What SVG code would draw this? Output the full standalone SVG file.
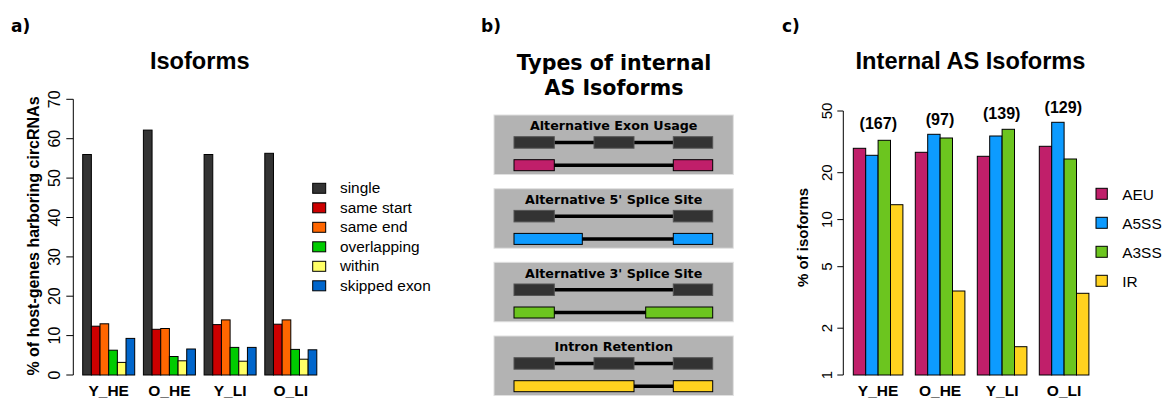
<svg xmlns="http://www.w3.org/2000/svg" width="1168" height="399" viewBox="0 0 1168 399">
<style>
.pl{font-family:"DejaVu Sans",sans-serif;font-weight:bold;font-size:17px;fill:#000}
.ti{font-family:"Liberation Sans",Arial,sans-serif;font-weight:bold;font-size:23.6px;text-anchor:middle;fill:#000}
.tk{font-family:"Liberation Sans",Arial,sans-serif;font-size:16px;text-anchor:middle;fill:#000}
.tkc{font-family:"Liberation Sans",Arial,sans-serif;font-size:15px;text-anchor:middle;fill:#000}
.yl{font-family:"Liberation Sans",Arial,sans-serif;font-weight:bold;font-size:16px;text-anchor:middle;fill:#000}
.gl{font-family:"Liberation Sans",Arial,sans-serif;font-weight:bold;font-size:15.5px;text-anchor:middle;fill:#000}
.lg{font-family:"Liberation Sans",Arial,sans-serif;font-size:15.4px;fill:#000}
.ct{font-family:"Liberation Sans",Arial,sans-serif;font-weight:bold;font-size:16px;text-anchor:middle;fill:#000}
.bt{font-family:"DejaVu Sans",sans-serif;font-weight:bold;font-size:20.6px;text-anchor:middle;fill:#000}
.st{font-family:"DejaVu Sans",sans-serif;font-weight:bold;font-size:12.7px;text-anchor:middle;fill:#000}
.bar rect{stroke:#000;stroke-width:1}
.ax{stroke:#000;stroke-width:1;fill:none}
.box{fill:#b3b3b3;stroke:#e0e0e0;stroke-width:1}
.ex{fill:#333;stroke:#555;stroke-width:1}
.ln{stroke:#000;stroke-width:3.5}
.c1{fill:#333333}.c2{fill:#cc0000}.c3{fill:#ff6600}.c4{fill:#00cc00}.c5{fill:#ffff66}.c6{fill:#0066cc}
.p1{fill:#c01f6a}.p2{fill:#0d9bff}.p3{fill:#6cc51f}.p4{fill:#ffd21f}
</style>
<rect width="1168" height="399" fill="#fff"/>

<g id="panel-a">
<text class="pl" x="11" y="32">a)</text>
<text class="ti" x="199.7" y="69">Isoforms</text>
<g id="axis-a">
<path class="ax" d="M73.3,99.3V375M66.3,375H73.3M66.3,335.6H73.3M66.3,296.2H73.3M66.3,256.9H73.3M66.3,217.5H73.3M66.3,178.1H73.3M66.3,138.7H73.3M66.3,99.3H73.3"/>
<g class="tk">
<text transform="translate(60,375) rotate(-90)">0</text>
<text transform="translate(60,335.6) rotate(-90)">10</text>
<text transform="translate(60,296.2) rotate(-90)">20</text>
<text transform="translate(60,256.9) rotate(-90)">30</text>
<text transform="translate(60,217.5) rotate(-90)">40</text>
<text transform="translate(60,178.1) rotate(-90)">50</text>
<text transform="translate(60,138.7) rotate(-90)">60</text>
<text transform="translate(60,99.3) rotate(-90)">70</text>
</g>
<text class="yl" transform="translate(39,236) rotate(-90)">% of host-genes harboring circRNAs</text>
</g>
<g id="bars-a" class="bar">
<rect class="c1" x="82.7" y="154.5" width="8.67" height="220.5"/>
<rect class="c2" x="91.37" y="326.2" width="8.67" height="48.8"/>
<rect class="c3" x="100.03" y="323.8" width="8.67" height="51.2"/>
<rect class="c4" x="108.7" y="350.2" width="8.67" height="24.8"/>
<rect class="c5" x="117.37" y="362.4" width="8.67" height="12.6"/>
<rect class="c6" x="126.03" y="338.4" width="8.67" height="36.6"/>

<rect class="c1" x="143.4" y="130.1" width="8.67" height="244.9"/>
<rect class="c2" x="152.07" y="329.3" width="8.67" height="45.7"/>
<rect class="c3" x="160.73" y="328.5" width="8.67" height="46.5"/>
<rect class="c4" x="169.4" y="356.5" width="8.67" height="18.5"/>
<rect class="c5" x="178.07" y="360.8" width="8.67" height="14.2"/>
<rect class="c6" x="186.73" y="349" width="8.67" height="26"/>

<rect class="c1" x="204.1" y="154.5" width="8.67" height="220.5"/>
<rect class="c2" x="212.77" y="324.6" width="8.67" height="50.4"/>
<rect class="c3" x="221.43" y="319.9" width="8.67" height="55.1"/>
<rect class="c4" x="230.1" y="347.4" width="8.67" height="27.6"/>
<rect class="c5" x="238.77" y="361.2" width="8.67" height="13.8"/>
<rect class="c6" x="247.43" y="347.4" width="8.67" height="27.6"/>

<rect class="c1" x="264.8" y="153.3" width="8.67" height="221.7"/>
<rect class="c2" x="273.47" y="324.2" width="8.67" height="50.8"/>
<rect class="c3" x="282.13" y="319.9" width="8.67" height="55.1"/>
<rect class="c4" x="290.8" y="349.4" width="8.67" height="25.6"/>
<rect class="c5" x="299.47" y="359.2" width="8.67" height="15.8"/>
<rect class="c6" x="308.13" y="349.8" width="8.67" height="25.2"/>
</g>
<g class="gl">
<text x="108.7" y="395.5">Y_HE</text>
<text x="169.4" y="395.5">O_HE</text>
<text x="230.1" y="395.5">Y_LI</text>
<text x="290.8" y="395.5">O_LI</text>
</g>
<g id="legend-a">
<g class="bar">
<rect class="c1" x="312.7" y="183.3" width="13" height="10"/>
<rect class="c2" x="312.7" y="202.8" width="13" height="10"/>
<rect class="c3" x="312.7" y="222.3" width="13" height="10"/>
<rect class="c4" x="312.7" y="241.8" width="13" height="10"/>
<rect class="c5" x="312.7" y="261.3" width="13" height="10"/>
<rect class="c6" x="312.7" y="280.8" width="13" height="10"/>
</g>
<text class="lg" x="340" y="193">single</text>
<text class="lg" x="340" y="212.5">same start</text>
<text class="lg" x="340" y="232">same end</text>
<text class="lg" x="340" y="251.5">overlapping</text>
<text class="lg" x="340" y="271">within</text>
<text class="lg" x="340" y="290.5">skipped exon</text>
</g>
</g>

<g id="panel-b">
<text class="pl" x="481" y="32">b)</text>
<text class="bt" x="614" y="70">Types of internal</text>
<text class="bt" x="614" y="95">AS Isoforms</text>

<g id="aeu">
<rect class="box" x="494" y="115" width="239.3" height="59.5"/>
<text class="st" x="613.7" y="130">Alternative Exon Usage</text>
<line class="ln" x1="554" y1="142.5" x2="673" y2="142.5"/>
<rect class="ex" x="514" y="136.7" width="40.3" height="11.5"/>
<rect class="ex" x="594" y="136.7" width="40" height="11.5"/>
<rect class="ex" x="673.3" y="136.7" width="39.4" height="11.5"/>
<line class="ln" x1="554" y1="165.2" x2="673" y2="165.2"/>
<rect class="p1" stroke="#000" x="514" y="159.7" width="40.3" height="11"/>
<rect class="p1" stroke="#000" x="673.3" y="159.7" width="39.4" height="11"/>
</g>
<g id="a5ss">
<rect class="box" x="494" y="188.7" width="239.3" height="59.5"/>
<text class="st" x="613.7" y="203.7">Alternative 5' Splice Site</text>
<line class="ln" x1="554" y1="216.2" x2="673" y2="216.2"/>
<rect class="ex" x="514" y="210.4" width="40.3" height="11.5"/>
<rect class="ex" x="673.3" y="210.4" width="39.4" height="11.5"/>
<line class="ln" x1="582" y1="238.9" x2="673" y2="238.9"/>
<rect class="p2" stroke="#000" x="514" y="233.4" width="68.3" height="11"/>
<rect class="p2" stroke="#000" x="673.3" y="233.4" width="39.4" height="11"/>
</g>
<g id="a3ss">
<rect class="box" x="494" y="262.3" width="239.3" height="59.5"/>
<text class="st" x="613.7" y="277.5">Alternative 3' Splice Site</text>
<line class="ln" x1="554" y1="289.8" x2="673" y2="289.8"/>
<rect class="ex" x="514" y="284" width="40.3" height="11.5"/>
<rect class="ex" x="673.3" y="284" width="39.4" height="11.5"/>
<line class="ln" x1="554" y1="312.5" x2="646" y2="312.5"/>
<rect class="p3" stroke="#000" x="514" y="307" width="40.3" height="11"/>
<rect class="p3" stroke="#000" x="645.7" y="307" width="67" height="11"/>
</g>
<g id="ir">
<rect class="box" x="494" y="336" width="239.3" height="59.5"/>
<text class="st" x="613.7" y="351">Intron Retention</text>
<line class="ln" x1="554" y1="363.5" x2="673" y2="363.5"/>
<rect class="ex" x="514" y="357.7" width="40.3" height="11.5"/>
<rect class="ex" x="594" y="357.7" width="40" height="11.5"/>
<rect class="ex" x="673.3" y="357.7" width="39.4" height="11.5"/>
<line class="ln" x1="634" y1="386.2" x2="673" y2="386.2"/>
<rect class="p4" stroke="#000" x="514" y="380.7" width="120" height="11"/>
<rect class="p4" stroke="#000" x="673.3" y="380.7" width="39.4" height="11"/>
</g>
</g>

<g id="panel-c">
<text class="pl" x="782" y="32">c)</text>
<text class="ti" x="970.5" y="68.5">Internal AS Isoforms</text>
<g id="axis-c">
<path class="ax" d="M843.3,111V375M837.3,375H843.3M837.3,328.2H843.3M837.3,266.7H843.3M837.3,219.6H843.3M837.3,172.7H843.3M837.3,111H843.3"/>
<g class="tkc">
<text transform="translate(831.5,375) rotate(-90)">1</text>
<text transform="translate(831.5,328.2) rotate(-90)">2</text>
<text transform="translate(831.5,266.7) rotate(-90)">5</text>
<text transform="translate(831.5,219.6) rotate(-90)">10</text>
<text transform="translate(831.5,172.7) rotate(-90)">20</text>
<text transform="translate(831.5,111) rotate(-90)">50</text>
</g>
<text class="yl" style="font-size:15px" transform="translate(808,237.5) rotate(-90)">% of isoforms</text>
</g>
<g id="bars-c" class="bar">
<rect class="p1" x="853.3" y="148.3" width="12.4" height="226.7"/>
<rect class="p2" x="865.7" y="155.3" width="12.4" height="219.7"/>
<rect class="p3" x="878.1" y="140.3" width="12.4" height="234.7"/>
<rect class="p4" x="890.5" y="204.7" width="12.4" height="170.3"/>

<rect class="p1" x="915.3" y="152.3" width="12.4" height="222.7"/>
<rect class="p2" x="927.7" y="134.3" width="12.4" height="240.7"/>
<rect class="p3" x="940.1" y="138" width="12.4" height="237"/>
<rect class="p4" x="952.5" y="291" width="12.4" height="84"/>

<rect class="p1" x="977.3" y="156.3" width="12.4" height="218.7"/>
<rect class="p2" x="989.7" y="136" width="12.4" height="239"/>
<rect class="p3" x="1002.1" y="129.3" width="12.4" height="245.7"/>
<rect class="p4" x="1014.5" y="346.7" width="12.4" height="28.3"/>

<rect class="p1" x="1039.3" y="146.3" width="12.4" height="228.7"/>
<rect class="p2" x="1051.7" y="122.3" width="12.4" height="252.7"/>
<rect class="p3" x="1064.1" y="159" width="12.4" height="216"/>
<rect class="p4" x="1076.5" y="293.3" width="12.4" height="81.7"/>
</g>
<g id="counts">
<text class="ct" x="878.3" y="129">(167)</text>
<text class="ct" x="940" y="125">(97)</text>
<text class="ct" x="1001.7" y="119">(139)</text>
<text class="ct" x="1063.3" y="112.5">(129)</text>
</g>
<g class="gl">
<text x="878.1" y="396">Y_HE</text>
<text x="940.1" y="396">O_HE</text>
<text x="1002.1" y="396">Y_LI</text>
<text x="1064.1" y="396">O_LI</text>
</g>
<g id="legend-c">
<g class="bar">
<rect class="p1" x="1096" y="188.3" width="11.3" height="11"/>
<rect class="p2" x="1096" y="217.3" width="11.3" height="11"/>
<rect class="p3" x="1096" y="246.3" width="11.3" height="11"/>
<rect class="p4" x="1096" y="275.3" width="11.3" height="11"/>
</g>
<text class="lg" x="1122.3" y="199.5">AEU</text>
<text class="lg" x="1122.3" y="228.5">A5SS</text>
<text class="lg" x="1122.3" y="257.5">A3SS</text>
<text class="lg" x="1122.3" y="286.5">IR</text>
</g>
</g>
</svg>
